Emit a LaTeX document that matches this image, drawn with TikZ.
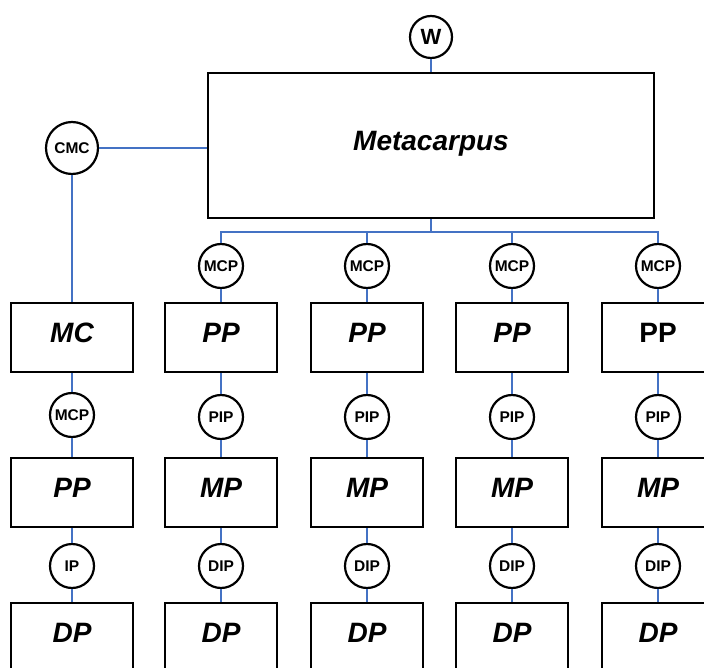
\documentclass[tikz,border=0pt]{standalone}
\usepackage{fontspec}
\setmainfont{Liberation Sans}
\definecolor{linkblue}{HTML}{4472C4}
\begin{document}
\begin{tikzpicture}[x=1pt,y=-1pt,
  box/.style={draw,line width=2.8pt,fill=white,minimum width=112pt,minimum height=69pt,inner sep=0pt,
    font=\fontsize{28}{30}\selectfont\bfseries\itshape,text height=20pt,text depth=10pt},
  wbox/.style={box,minimum width=122pt},
  joint/.style={draw,circle,line width=2.2pt,fill=white,minimum size=44pt,inner sep=0pt,
    font=\fontsize{15.5}{16}\selectfont\bfseries},
  link/.style={draw=linkblue,line width=2.3pt}]
\useasboundingbox (0,0) rectangle (704,668);
\clip (0,0) rectangle (704,668);
\node[joint,minimum size=42pt,font=\fontsize{22}{24}\selectfont\bfseries] (W) at (431,37) {W};
\node[box,minimum width=446pt,minimum height=145pt] (meta) at (431,145.5) {Metacarpus};
\node[joint,minimum size=52pt] (cmc) at (72,148) {CMC};
\coordinate (bus) at (431,232);
% column 1
\node[wbox] (b11) at (72,337.5) {MC};
\node[joint] (c12) at (72,415) {MCP};
\node[wbox] (b12) at (72,492.5) {PP};
\node[joint] (c13) at (72,566) {IP};
\node[wbox] (b13) at (72,637.5) {DP};
% columns 2-5
\foreach \i/\x in {2/221,3/367,4/512,5/658}{
  \node[joint] (c\i1) at (\x,266) {MCP};
  \node[joint] (c\i2) at (\x,417) {PIP};
  \node[box] (b\i2) at (\x,492.5) {MP};
  \node[joint] (c\i3) at (\x,566) {DIP};
  \node[box] (b\i3) at (\x,637.5) {DP};
}
\foreach \i/\x in {2/221,3/367,4/512}{
  \node[box] (b\i1) at (\x,337.5) {PP};
}
\node[box,font=\fontsize{28}{30}\selectfont\bfseries] (b51) at (658,337.5) {PP};
% links
\draw[link] (W.south) -- (meta.north);
\draw[link] (cmc.east) -- (cmc.east -| meta.west);
\draw[link] (cmc.south) -- (b11.north);
\draw[link] (b11.south) -- (c12.north);
\draw[link] (c12.south) -- (b12.north);
\draw[link] (b12.south) -- (c13.north);
\draw[link] (c13.south) -- (b13.north);
\draw[link] (meta.south) -- (bus);
\foreach \i in {2,3,4,5}{
  \draw[link] (bus) -| (c\i1.north);
  \draw[link] (c\i1.south) -- (b\i1.north);
  \draw[link] (b\i1.south) -- (c\i2.north);
  \draw[link] (c\i2.south) -- (b\i2.north);
  \draw[link] (b\i2.south) -- (c\i3.north);
  \draw[link] (c\i3.south) -- (b\i3.north);
}
\end{tikzpicture}
\end{document}
